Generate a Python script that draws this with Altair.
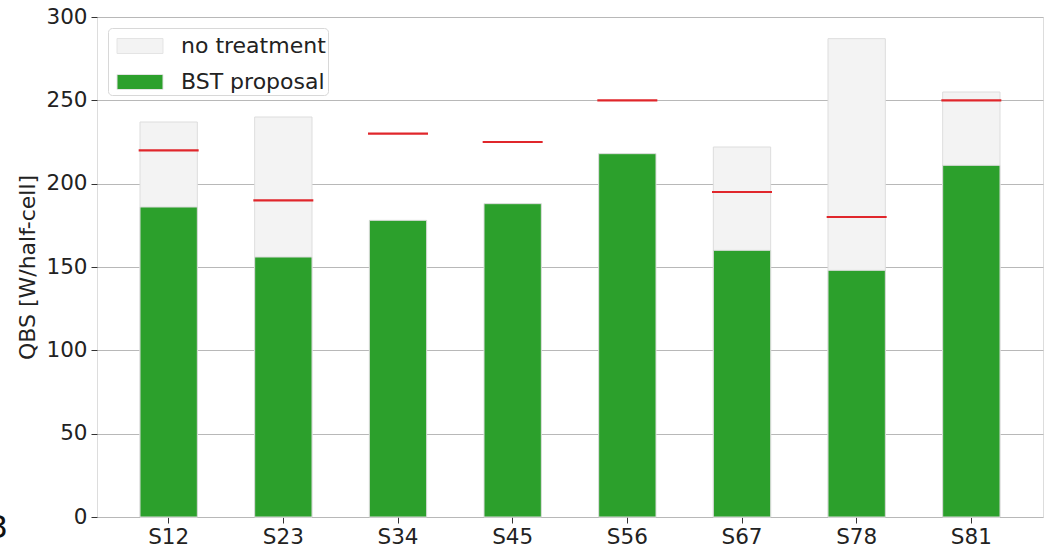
import altair as alt
import pandas as pd

# Sections of the machine
sections = ["S12", "S23", "S34", "S45", "S56", "S67", "S78", "S81"]
# Heat load without treatment (None where it is not drawn)
no_treatment = [237, 240, None, None, None, 222, 287, 255]
# Heat load with the BST proposal
bst_proposal = [186, 156, 178, 188, 218, 160, 148, 211]
# Cooling limit per section
limits = [220, 190, 230, 225, 250, 195, 180, 250]

series_names = ["no treatment", "BST proposal"]

rows = []
for s, v in zip(sections, no_treatment):
    if v is not None:
        rows.append({"section": s, "series": series_names[0], "value": v, "k": 0})
for s, v in zip(sections, bst_proposal):
    rows.append({"section": s, "series": series_names[1], "value": v, "k": 1})
bars_df = pd.DataFrame(rows)
limits_df = pd.DataFrame({"section": sections, "limit": limits})

FONT = "DejaVu Sans"

x_enc = alt.X(
    "section:N",
    sort=sections,
    scale=alt.Scale(domain=sections, paddingInner=0.5, paddingOuter=0.375),
    axis=alt.Axis(title=None, labelAngle=0, labelFontSize=21.5, labelColor="#222222",
                  labelFont=FONT, tickSize=6, tickColor="#333333", domain=False,
                  labelPadding=3, grid=False),
)

y_scale = alt.Scale(domain=[0, 300], nice=False)

bars = alt.Chart(bars_df).mark_bar(stroke="#dddddd", strokeWidth=1).encode(
    x=x_enc,
    y=alt.Y("value:Q", scale=y_scale, stack=None,
            axis=alt.Axis(title="QBS [W/half-cell]", titleFontSize=22, titleFont=FONT,
                          titleFontWeight="normal", titleColor="#222222", titlePadding=6,
                          values=[0, 50, 100, 150, 200, 250, 300], labelFontSize=21.5,
                          labelFont=FONT, labelColor="#222222", tickSize=6,
                          tickColor="#333333", domain=False, grid=True,
                          gridColor="#b8b8b8", gridWidth=1, labelPadding=4)),
    color=alt.Color("series:N",
                    scale=alt.Scale(domain=series_names, range=["#f3f3f3", "#2ca02c"]),
                    legend=alt.Legend(
                        title=None, orient="top-left", offset=11,
                        labelFontSize=22, labelFont=FONT, labelColor="#222222",
                        symbolType="M-1.5,-0.49L1.5,-0.49L1.5,0.49L-1.5,0.49Z",
                        symbolSize=940, symbolOffset=14, symbolStrokeColor="#e4e4e4",
                        symbolStrokeWidth=1, symbolOpacity=1,
                        fillColor="white", strokeColor="#d8d8d8", cornerRadius=4,
                        padding=2, rowPadding=9, labelOffset=25, labelLimit=300)),
    order=alt.Order("k:Q"),
)

limit_ticks = alt.Chart(limits_df).mark_tick(
    color="#e0262b", thickness=2.2, size=60, orient="horizontal", opacity=1
).encode(
    x=alt.X("section:N", sort=sections),
    y=alt.Y("limit:Q", scale=y_scale),
)

# Stray label partly outside the figure on the left
stray = alt.Chart(pd.DataFrame({"t": ["3"]})).mark_text(
    fontSize=32, font=FONT, align="right", baseline="alphabetic", color="#111111"
).encode(text="t:N", x=alt.value(-89), y=alt.value(521))

chart = alt.layer(bars, limit_ticks, stray).properties(
    width=946, height=500,
    autosize=alt.AutoSizeParams(type="none"),
    padding={"left": 97, "top": 17, "right": 3, "bottom": 30},
).configure_view(
    stroke="#333333", strokeWidth=1.2
).configure(background="white")

chart.save("out.html", embed_options={"renderer": "svg", "actions": False})
